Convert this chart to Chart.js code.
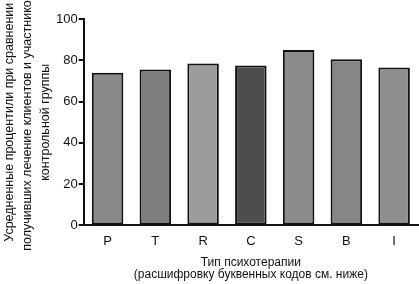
<!DOCTYPE html>
<html>
<head>
<meta charset="utf-8">
<script src="https://cdn.jsdelivr.net/npm/chart.js@4.4.1/dist/chart.umd.min.js"></script>
<style>
  html, body { margin: 0; padding: 0; background: #fff; }
  .chart-container { position: relative; width: 419px; height: 284px; }
</style>
</head>
<body>
<div class="chart-container">
  <canvas id="barChart"></canvas>
</div>
<script>
// Данные
const categories = ["P", "T", "R", "C", "S", "B", "I"];
const percentiles = [74, 75.5, 78.5, 77.5, 85, 80.5, 76.5];
const barColors = ["#8a8a8a", "#7e7e7e", "#9c9c9c", "#4d4d4d", "#8c8c8c", "#868686", "#8e8e8e"];
const yTicks = [0, 20, 40, 60, 80, 100];

const yTitle = [
  "Усредненные процентили при сравнении",
  "получивших лечение клиентов и участников",
  "контрольной группы"
];
const xTitle = [
  "Тип психотерапии",
  "(расшифровку буквенных кодов см. ниже)"
];

const FONT = "'Liberation Sans', Arial, sans-serif";

var ctx = document.getElementById('barChart').getContext('2d');

new Chart(ctx, {
  type: 'bar',
  data: {
    labels: categories,
    datasets: [{
      data: percentiles,
      backgroundColor: barColors,
      borderColor: '#111',
      borderWidth: 2,
      borderSkipped: false,
      barPercentage: 0.66,
      categoryPercentage: 1.0
    }]
  },
  options: {
    responsive: true,
    maintainAspectRatio: false,
    animation: false,
    layout: { padding: { top: 19, right: 1, bottom: 3, left: 0 } },
    plugins: {
      legend: { display: false },
      tooltip: { enabled: false }
    },
    scales: {
      x: {
        grid: { display: false, drawTicks: false },
        border: { display: true, color: '#111', width: 2 },
        ticks: { color: '#111', font: { family: FONT, size: 13 }, padding: 8 },
        title: {
          display: true,
          text: xTitle,
          color: '#111',
          font: { family: FONT, size: 12, lineHeight: 1.0 },
          padding: { top: 0, bottom: 0 }
        }
      },
      y: {
        min: 0,
        max: 100,
        afterBuildTicks: (axis) => { axis.ticks = yTicks.map(v => ({ value: v })); },
        grid: { drawOnChartArea: false, drawTicks: true, tickLength: 5, color: '#111', lineWidth: 2 },
        border: { display: true, color: '#111', width: 2 },
        ticks: { color: '#111', font: { family: FONT, size: 13 }, padding: 1 },
        title: {
          display: true,
          text: yTitle,
          color: '#111',
          font: { family: FONT, size: 12.5, lineHeight: 1.44 },
          padding: { top: 1, bottom: 0 }
        }
      }
    }
  }
});
</script>
</body>
</html>
